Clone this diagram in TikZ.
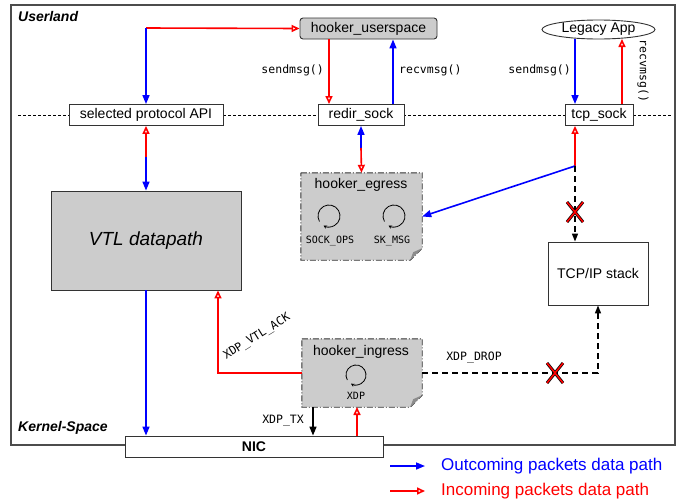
\documentclass[tikz,border=0pt]{standalone}
\usepackage{fontspec}
\setmainfont{Liberation Sans}
\setmonofont{DejaVu Sans Mono}
\usetikzlibrary{arrows.meta,shapes.geometric,calc}

\tikzset{
  plainbox/.style={draw=black!80, fill=white, line width=0.9pt, inner sep=0pt, font=\fontsize{14}{16}\selectfont},
  greybox/.style={plainbox, fill=black!20},
  hookedge/.style={draw=black!80, fill=black!20, line width=0.9pt, dash pattern=on 6pt off 2pt on 1pt off 2pt},
  zonelabel/.style={anchor=west, inner sep=0pt, font=\fontsize{14}{16}\selectfont\bfseries\itshape},
  codelabel/.style={inner sep=0pt, font=\fontsize{11.5}{13}\selectfont\ttfamily},
  iconlabel/.style={inner sep=0pt, font=\fontsize{10}{12}\selectfont\ttfamily},
  outpath/.style={draw=blue, line width=1.6pt, -{Triangle[length=9pt,width=7pt]}},
  inpath/.style={draw=red, line width=1.6pt, -{Triangle[open,length=8pt,width=7pt]}},
  droppath/.style={draw=black, line width=1.5pt, dash pattern=on 6pt off 4pt, -{Triangle[length=8pt,width=6pt]}},
  txpath/.style={draw=black, line width=1.5pt, -{Triangle[length=9pt,width=7pt]}},
  loopicon/.style={draw=black, line width=0.8pt, -{Stealth[length=3.5pt,width=3.5pt]}},
}

\begin{document}
\begin{tikzpicture}[x=1pt,y=1pt,yscale=-1,xscale=1]
\useasboundingbox (0,0) rectangle (681,504);

%Shape: frame and user/kernel border
\draw[black!70, line width=1.2pt] (11,5) rectangle (675,445);
\draw[black, line width=0.7pt, dash pattern=on 3pt off 2pt] (18,115) -- (672,115);

% Text Node
\node[zonelabel] (userland) at (18,16) {Userland};
% Text Node
\node[zonelabel] (kernel) at (18,428) {Kernel-Space};

%Shape: sockets
\node[plainbox, minimum width=154pt, minimum height=21pt] (api) at (146,115) {selected protocol API};
\node[plainbox, minimum width=86pt, minimum height=21pt] (redir) at (361,115) {redir\_sock};
\node[plainbox, minimum width=68pt, minimum height=21pt] (tcp) at (599,115) {tcp\_sock};

%Shape: user space
\node[greybox, rounded corners=3pt, minimum width=137pt, minimum height=21pt] (husr) at (368.5,28.5) {hooker\_userspace};
\node[plainbox, ellipse, minimum width=113pt, minimum height=19pt] (legacy) at (598.5,29.5) {Legacy App};

%Shape: kernel boxes
\node[greybox, minimum width=190pt, minimum height=99pt, font=\fontsize{19}{22}\selectfont\itshape] (vtl) at (146,240.5) {VTL datapath};
\node[plainbox, minimum width=100pt, minimum height=63pt] (stack) at (598,273.5) {TCP/IP stack};
\node[plainbox, minimum width=258pt, minimum height=21pt] (nic) at (254,446.5) {\bfseries NIC\hspace{62pt}};

%Shape: hooker_egress
\node[minimum width=121pt, minimum height=87pt, inner sep=0pt] (egress) at (361.5,216.5) {};
\draw[hookedge] (egress.north west) -- (egress.north east) -- ($(egress.south east)+(0,-12)$)
  -- ($(egress.south east)+(-12,0)$) -- (egress.south west) -- cycle;
\fill[black!45] ($(egress.south east)+(-12,0)$) -- ($(egress.south east)+(-9,-8)$) -- ($(egress.south east)+(0,-12)$) -- cycle;
\node[inner sep=0pt, font=\fontsize{14}{16}\selectfont] (egtitle) at (361,185) {hooker\_egress};
\coordinate (sockops) at (329,216);
\coordinate (skmsg) at (394,216);
\draw[loopicon] ($(sockops)+(150:11)$) arc (150:480:11);
\draw[loopicon] ($(skmsg)+(150:11)$) arc (150:480:11);
\node[iconlabel] (sockopslbl) at (330,241) {SOCK\_OPS};
\node[iconlabel] (skmsglbl) at (392,241) {SK\_MSG};

%Shape: hooker_ingress
\node[minimum width=120pt, minimum height=68pt, inner sep=0pt] (ingress) at (362,373) {};
\draw[hookedge] (ingress.north west) -- (ingress.north east) -- ($(ingress.south east)+(0,-12)$)
  -- ($(ingress.south east)+(-12,0)$) -- (ingress.south west) -- cycle;
\fill[black!45] ($(ingress.south east)+(-12,0)$) -- ($(ingress.south east)+(-9,-8)$) -- ($(ingress.south east)+(0,-12)$) -- cycle;
\node[inner sep=0pt, font=\fontsize{14}{16}\selectfont] (ingtitle) at (361,352) {hooker\_ingress};
\coordinate (xdp) at (356,375);
\draw[loopicon] ($(xdp)+(150:10)$) arc (150:480:10);
\node[iconlabel] (xdplbl) at (356,396) {XDP};

%Straight Lines: userland paths
\coordinate (jtop) at (146,28);
\draw[inpath] (jtop) -- (husr.west);
\draw[outpath] (jtop) -- (api.north);
\coordinate (rdsend) at (329,104);
\coordinate (rdrecv) at (393,104);
\draw[inpath] (rdsend |- husr.south) -- (rdsend);
\draw[outpath] (rdrecv) -- (rdrecv |- husr.south);
\coordinate (lgsend) at (575,104);
\coordinate (lgrecv) at (622,104);
\draw[outpath] (lgsend |- legacy.south) -- (lgsend);
\draw[inpath] (lgrecv) -- (622,39);

% Text Node
\node[codelabel, anchor=east] (send1) at (324,70) {sendmsg()};
\node[codelabel, anchor=west] (recv1) at (399,70) {recvmsg()};
\node[codelabel, anchor=east] (send2) at (571,70) {sendmsg()};
\node[codelabel, rotate=-90] (recv2) at (643,71) {recvmsg()};

%Straight Lines: kernel paths
\coordinate (jvtl) at (146,157);
\draw[inpath] (jvtl) -- (api.south);
\draw[outpath] (jvtl) -- (vtl.north);
\draw[outpath] (vtl.south) -- (vtl.south |- nic.north);

\coordinate (jegr) at (361,148);
\draw[outpath] (jegr) -- (redir.south);
\draw[inpath] (jegr) -- (egress.north);

\coordinate (jtcp) at (575,166);
\draw[inpath] (jtcp) -- (jtcp |- tcp.south);
\draw[outpath] (jtcp) -- (egress.east);
\draw[droppath] (jtcp) -- (jtcp |- stack.north);

\coordinate (ackbend) at (218,373);
\draw[inpath] (ingress.west) -- (ackbend) -- (ackbend |- vtl.south);
\node[codelabel, rotate=32] (acklbl) at (257,337) {XDP\_VTL\_ACK};

\coordinate (dropbend) at (598,373);
\draw[droppath] (ingress.east) -- (dropbend) -- (stack.south);
\node[codelabel] (droplbl) at (474,358) {XDP\_DROP};

\coordinate (txtop) at (313,407);
\coordinate (rxtop) at (357,407);
\draw[txpath] (txtop) -- (txtop |- nic.north);
\draw[inpath] (rxtop |- nic.north) -- (rxtop);
\node[codelabel, anchor=east] (txlbl) at (304,421) {XDP\_TX};

%Shape: blocked marks
\coordinate (cross1) at (575,212);
\coordinate (cross2) at (555,373);
\draw[black, line width=3pt] ($(cross1)+(-8,-10)$) -- ($(cross1)+(8,10)$) ($(cross1)+(-8,10)$) -- ($(cross1)+(8,-10)$);
\draw[red, line width=1.6pt] ($(cross1)+(-8,-10)$) -- ($(cross1)+(8,10)$) ($(cross1)+(-8,10)$) -- ($(cross1)+(8,-10)$);
\draw[black, line width=3pt] ($(cross2)+(-8,-10)$) -- ($(cross2)+(8,10)$) ($(cross2)+(-8,10)$) -- ($(cross2)+(8,-10)$);
\draw[red, line width=1.6pt] ($(cross2)+(-8,-10)$) -- ($(cross2)+(8,10)$) ($(cross2)+(-8,10)$) -- ($(cross2)+(8,-10)$);

% Text Node: legend
\node[anchor=west, inner sep=0pt, text=blue, font=\fontsize{17}{20}\selectfont] (outleg) at (441,466) {Outcoming packets data path};
\node[anchor=west, inner sep=0pt, text=red, font=\fontsize{17}{20}\selectfont] (inleg) at (441,491) {Incoming packets data path};
\draw[outpath] ($(outleg.west)+(-51,0)$) -- ($(outleg.west)+(-16,0)$);
\draw[inpath] ($(inleg.west)+(-51,0)$) -- ($(inleg.west)+(-16,0)$);

\end{tikzpicture}
\end{document}
